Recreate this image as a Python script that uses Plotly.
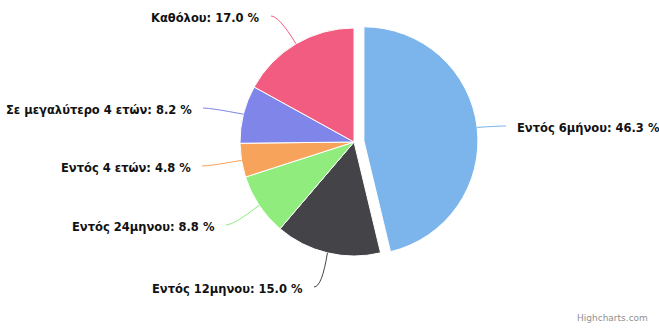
import math
import plotly.graph_objects as go

# Answer categories and their shares (%)
categories = [
    "Εντός 6μήνου",
    "Εντός 12μηνου",
    "Εντός 24μηνου",
    "Εντός 4 ετών",
    "Σε μεγαλύτερο 4 ετών",
    "Καθόλου",
]
shares = [46.3, 15.0, 8.8, 4.8, 8.2, 17.0]
sliced = [True, False, False, False, False, False]

colors = ["#7cb5ec", "#434348", "#90ed7d", "#f7a35c", "#8085e9", "#f15c80"]

W, H = 659, 329
CX, CY, R = 354.0, 142.0, 114.0   # pie centre and radius in pixels
OFFSET = 10.0                     # distance a sliced point is pulled out
PULL = OFFSET / R

# Label anchor per slice: (x, y, side) in pixels; connector ends near the label
label_layout = [
    (515, 128, "left"),
    (305, 289, "right"),
    (217, 227, "right"),
    (193, 168, "right"),
    (194, 110, "right"),
    (262, 18, "right"),
]


def px(x):
    return x / W


def py(y):
    return 1 - y / H


half = R * (1 + PULL)
fig = go.Figure(
    go.Pie(
        labels=categories,
        values=shares,
        sort=False,
        direction="clockwise",
        rotation=0,
        pull=[PULL if s else 0 for s in sliced],
        marker=dict(colors=colors, line=dict(color="#ffffff", width=1)),
        textinfo="none",
        hoverinfo="label+percent",
        showlegend=False,
        domain=dict(
            x=[px(CX - half), px(CX + half)],
            y=[py(CY + half), py(CY - half)],
        ),
    )
)

annotations = []
shapes = []
total = sum(shares)
cum = 0.0
for name, val, col, sl, (lx, ly, side) in zip(
    categories, shares, colors, sliced, label_layout
):
    mid = (cum + val / 2) / total * 2 * math.pi
    cum += val
    extra = OFFSET if sl else 0.0
    ox = CX + extra * math.sin(mid)
    oy = CY - extra * math.cos(mid)
    ex = ox + R * math.sin(mid)
    ey = oy - R * math.cos(mid)

    annotations.append(
        dict(
            x=px(lx),
            y=py(ly),
            xref="paper",
            yref="paper",
            text=f"<b>{name}: {val:.1f} %</b>",
            showarrow=False,
            xanchor="left" if side == "left" else "right",
            yanchor="middle",
            font=dict(family="DejaVu Sans", size=11.5, color="#111111"),
        )
    )

    # connector: short horizontal run from the label, then a curve to the slice edge
    sx = lx - 9 if side == "left" else lx + 9
    kx = sx + (-8 if side == "left" else 8)
    path = (
        f"M {px(sx)},{py(ly - 2)} "
        f"Q {px(kx)},{py(ly - 2)} {px(ex)},{py(ey)}"
    )
    shapes.append(
        dict(
            type="path",
            path=path,
            xref="paper",
            yref="paper",
            line=dict(color=col, width=1),
        )
    )

annotations.append(
    dict(
        x=px(650),
        y=py(318),
        xref="paper",
        yref="paper",
        text="Highcharts.com",
        showarrow=False,
        xanchor="right",
        yanchor="middle",
        font=dict(family="DejaVu Sans", size=9, color="#909090"),
    )
)

fig.update_layout(
    width=W,
    height=H,
    margin=dict(l=0, r=0, t=0, b=0),
    paper_bgcolor="#ffffff",
    plot_bgcolor="#ffffff",
    annotations=annotations,
    shapes=shapes,
)

fig.write_html("out.html")
